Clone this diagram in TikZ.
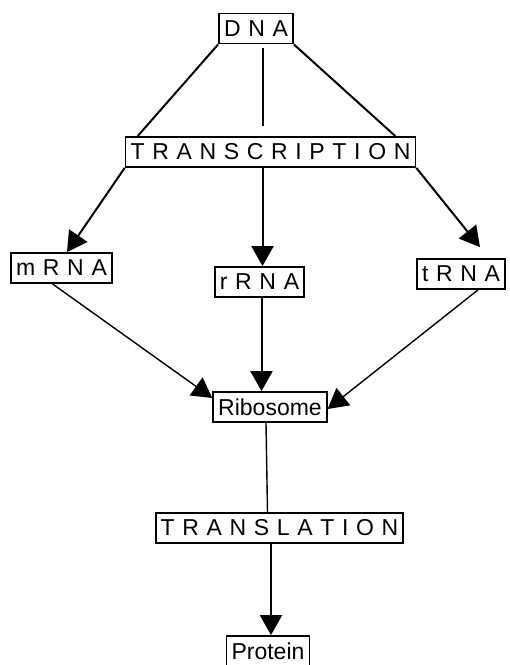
\documentclass[tikz,border=0pt]{standalone}
\usepackage{fontspec}
\setmainfont[WordSpace=1.2]{Liberation Sans}
\usetikzlibrary{arrows.meta}

\begin{document}
\begin{tikzpicture}[
x=1pt, y=-1pt,
>={Triangle[length=20pt,width=22pt]},
font=\fontsize{23}{27}\selectfont,
box/.style={
rectangle,
draw=black,
line width=1.8pt,
align=center,
minimum height=30pt,
inner xsep=5pt,
inner ysep=1pt
},
arrow/.style={
->,
line width=2pt,
draw=black
},
thinarrow/.style={
->,
line width=1.4pt,
draw=black
},
link/.style={
line width=2pt,
draw=black
},
thinlink/.style={
line width=1.4pt,
draw=black
}
]
\useasboundingbox (0,0) rectangle (510,665);

\node[box] (dna) at (256,28.5) {D N A};
\node[box] (transcription) at (270.5,152) {T R A N S C R I P T I O N};
\node[box] (mrna) at (61.5,268) {m R N A};
\node[box] (rrna) at (259.5,282) {r R N A};
\node[box] (trna) at (461,274) {t R N A};
\node[box] (ribosome) at (270,407) {Ribosome};
\node[box] (translation) at (279.5,528) {T R A N S L A T I O N};
\node[box] (protein) at (268,651) {Protein};

\draw[link] (dna.south west) -- ([xshift=13pt]transcription.north west);
\draw[thinlink] ([xshift=7pt,yshift=-4pt]dna.south) -- ([xshift=-7.5pt,yshift=10pt]transcription.north);
\draw[link] (dna.south east) -- ([xshift=-21pt]transcription.north east);

\draw[arrow] (transcription.south west) -- ([xshift=5.5pt]mrna.north);
\draw[arrow] ([xshift=3pt]rrna.north |- transcription.south) -- ([xshift=3pt]rrna.north);
\draw[arrow] (transcription.south east) -- ([xshift=19pt,yshift=11pt]trna.north);

\draw[thinarrow] ([xshift=-9pt]mrna.south) -- ([yshift=9pt]ribosome.west);
\draw[arrow] ([xshift=2pt]rrna.south) -- ([xshift=2pt]rrna.south |- ribosome.north);
\draw[thinarrow] ([xshift=17pt]trna.south) -- ([yshift=-2pt]ribosome.east);

\draw[thinlink] ([xshift=-4pt]ribosome.south) -- ([xshift=-12pt]translation.north);
\draw[arrow] ([xshift=3pt]protein.north |- translation.south) -- ([xshift=3pt]protein.north);

\end{tikzpicture}
\end{document}
